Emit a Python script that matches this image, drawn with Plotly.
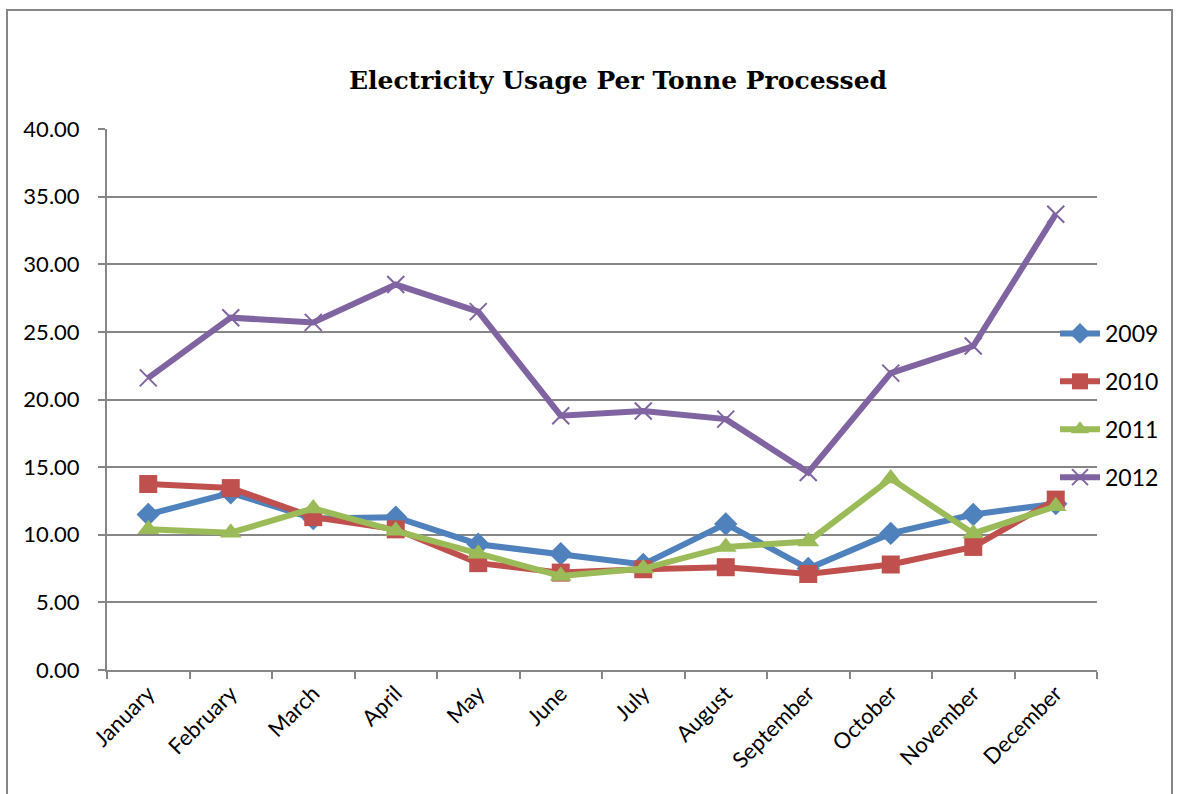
import plotly.graph_objects as go

months = ["January", "February", "March", "April", "May", "June", "July",
          "August", "September", "October", "November", "December"]
y2009 = [11.5, 13.1, 11.2, 11.3, 9.3, 8.6, 7.8, 10.8, 7.5, 10.1, 11.5, 12.3]
y2010 = [13.75, 13.45, 11.3, 10.4, 7.9, 7.2, 7.45, 7.6, 7.1, 7.8, 9.1, 12.6]
y2011 = [10.4, 10.15, 11.95, 10.3, 8.6, 6.95, 7.5, 9.1, 9.5, 14.15, 10.1, 12.1]
y2012 = [21.6, 26.05, 25.7, 28.5, 26.5, 18.8, 19.15, 18.55, 14.6, 21.95, 23.95, 33.7]

W, H = 1177, 794
L, R, T, B = 107, 1097, 129, 670
pw, ph = R - L, B - T

def px(x):
    return (x - L) / pw

def py(y):
    return (B - y) / ph

series = [
    ("2009", y2009, "#4F81BD", dict(symbol="diamond", size=18)),
    ("2010", y2010, "#C0504D", dict(symbol="square", size=18)),
    ("2011", y2011, "#9BBB59", dict(symbol="triangle-up", size=19)),
    ("2012", y2012, "#8064A2", dict(symbol="x-thin", size=17,
                                     line=dict(width=2, color="#8064A2"))),
]

fig = go.Figure()
for name, vals, col, mk in series:
    fig.add_trace(go.Scatter(
        x=months, y=vals, name=name, mode="lines+markers",
        line=dict(color=col, width=6),
        marker=dict(color=col, **mk),
        legendgroup=name,
    ))

fig.update_layout(
    width=W, height=H,
    margin=dict(l=L, r=W - R, t=T, b=H - B, autoexpand=False),
    paper_bgcolor="white", plot_bgcolor="white",
    title=dict(text="<b>Electricity Usage Per Tonne Processed</b>",
               font=dict(family="DejaVu Serif", size=25, color="black"),
               x=618 / W, xanchor="center", y=1 - 80 / H,
               yanchor="middle"),
    font=dict(family="Lato", size=22, color="black"),
    showlegend=True,
    legend=dict(x=px(1055), y=py(312), xanchor="left", yanchor="top",
                bgcolor="rgba(0,0,0,0)", font=dict(size=23, family="Lato"),
                tracegroupgap=15, itemwidth=40),
    xaxis=dict(type="category", showgrid=False, showline=True,
               linecolor="#868686", linewidth=2, ticks="outside",
               tickson="boundaries", ticklen=7, tickcolor="#868686",
               tickwidth=2, tickangle=-45, tickfont=dict(size=22),
               range=[-0.5, 11.5]),
    yaxis=dict(range=[0, 40], dtick=5, tickformat=".2f", showgrid=True,
               gridcolor="#868686", gridwidth=2, showline=True,
               linecolor="#868686", linewidth=2, ticks="outside",
               ticklen=7, tickcolor="#868686", tickwidth=2,
               zeroline=False, tickfont=dict(size=22),
               ticklabelstandoff=14),
    shapes=[dict(type="rect", xref="paper", yref="paper",
                 x0=px(7), x1=px(1172), y0=py(810), y1=py(10),
                 line=dict(color="#868686", width=2), layer="below")],
)

fig.write_html("out.html",
               config={"displayModeBar": False},
               post_script="document.body.style.margin='0';"
                           "document.body.style.overflow='hidden';")
